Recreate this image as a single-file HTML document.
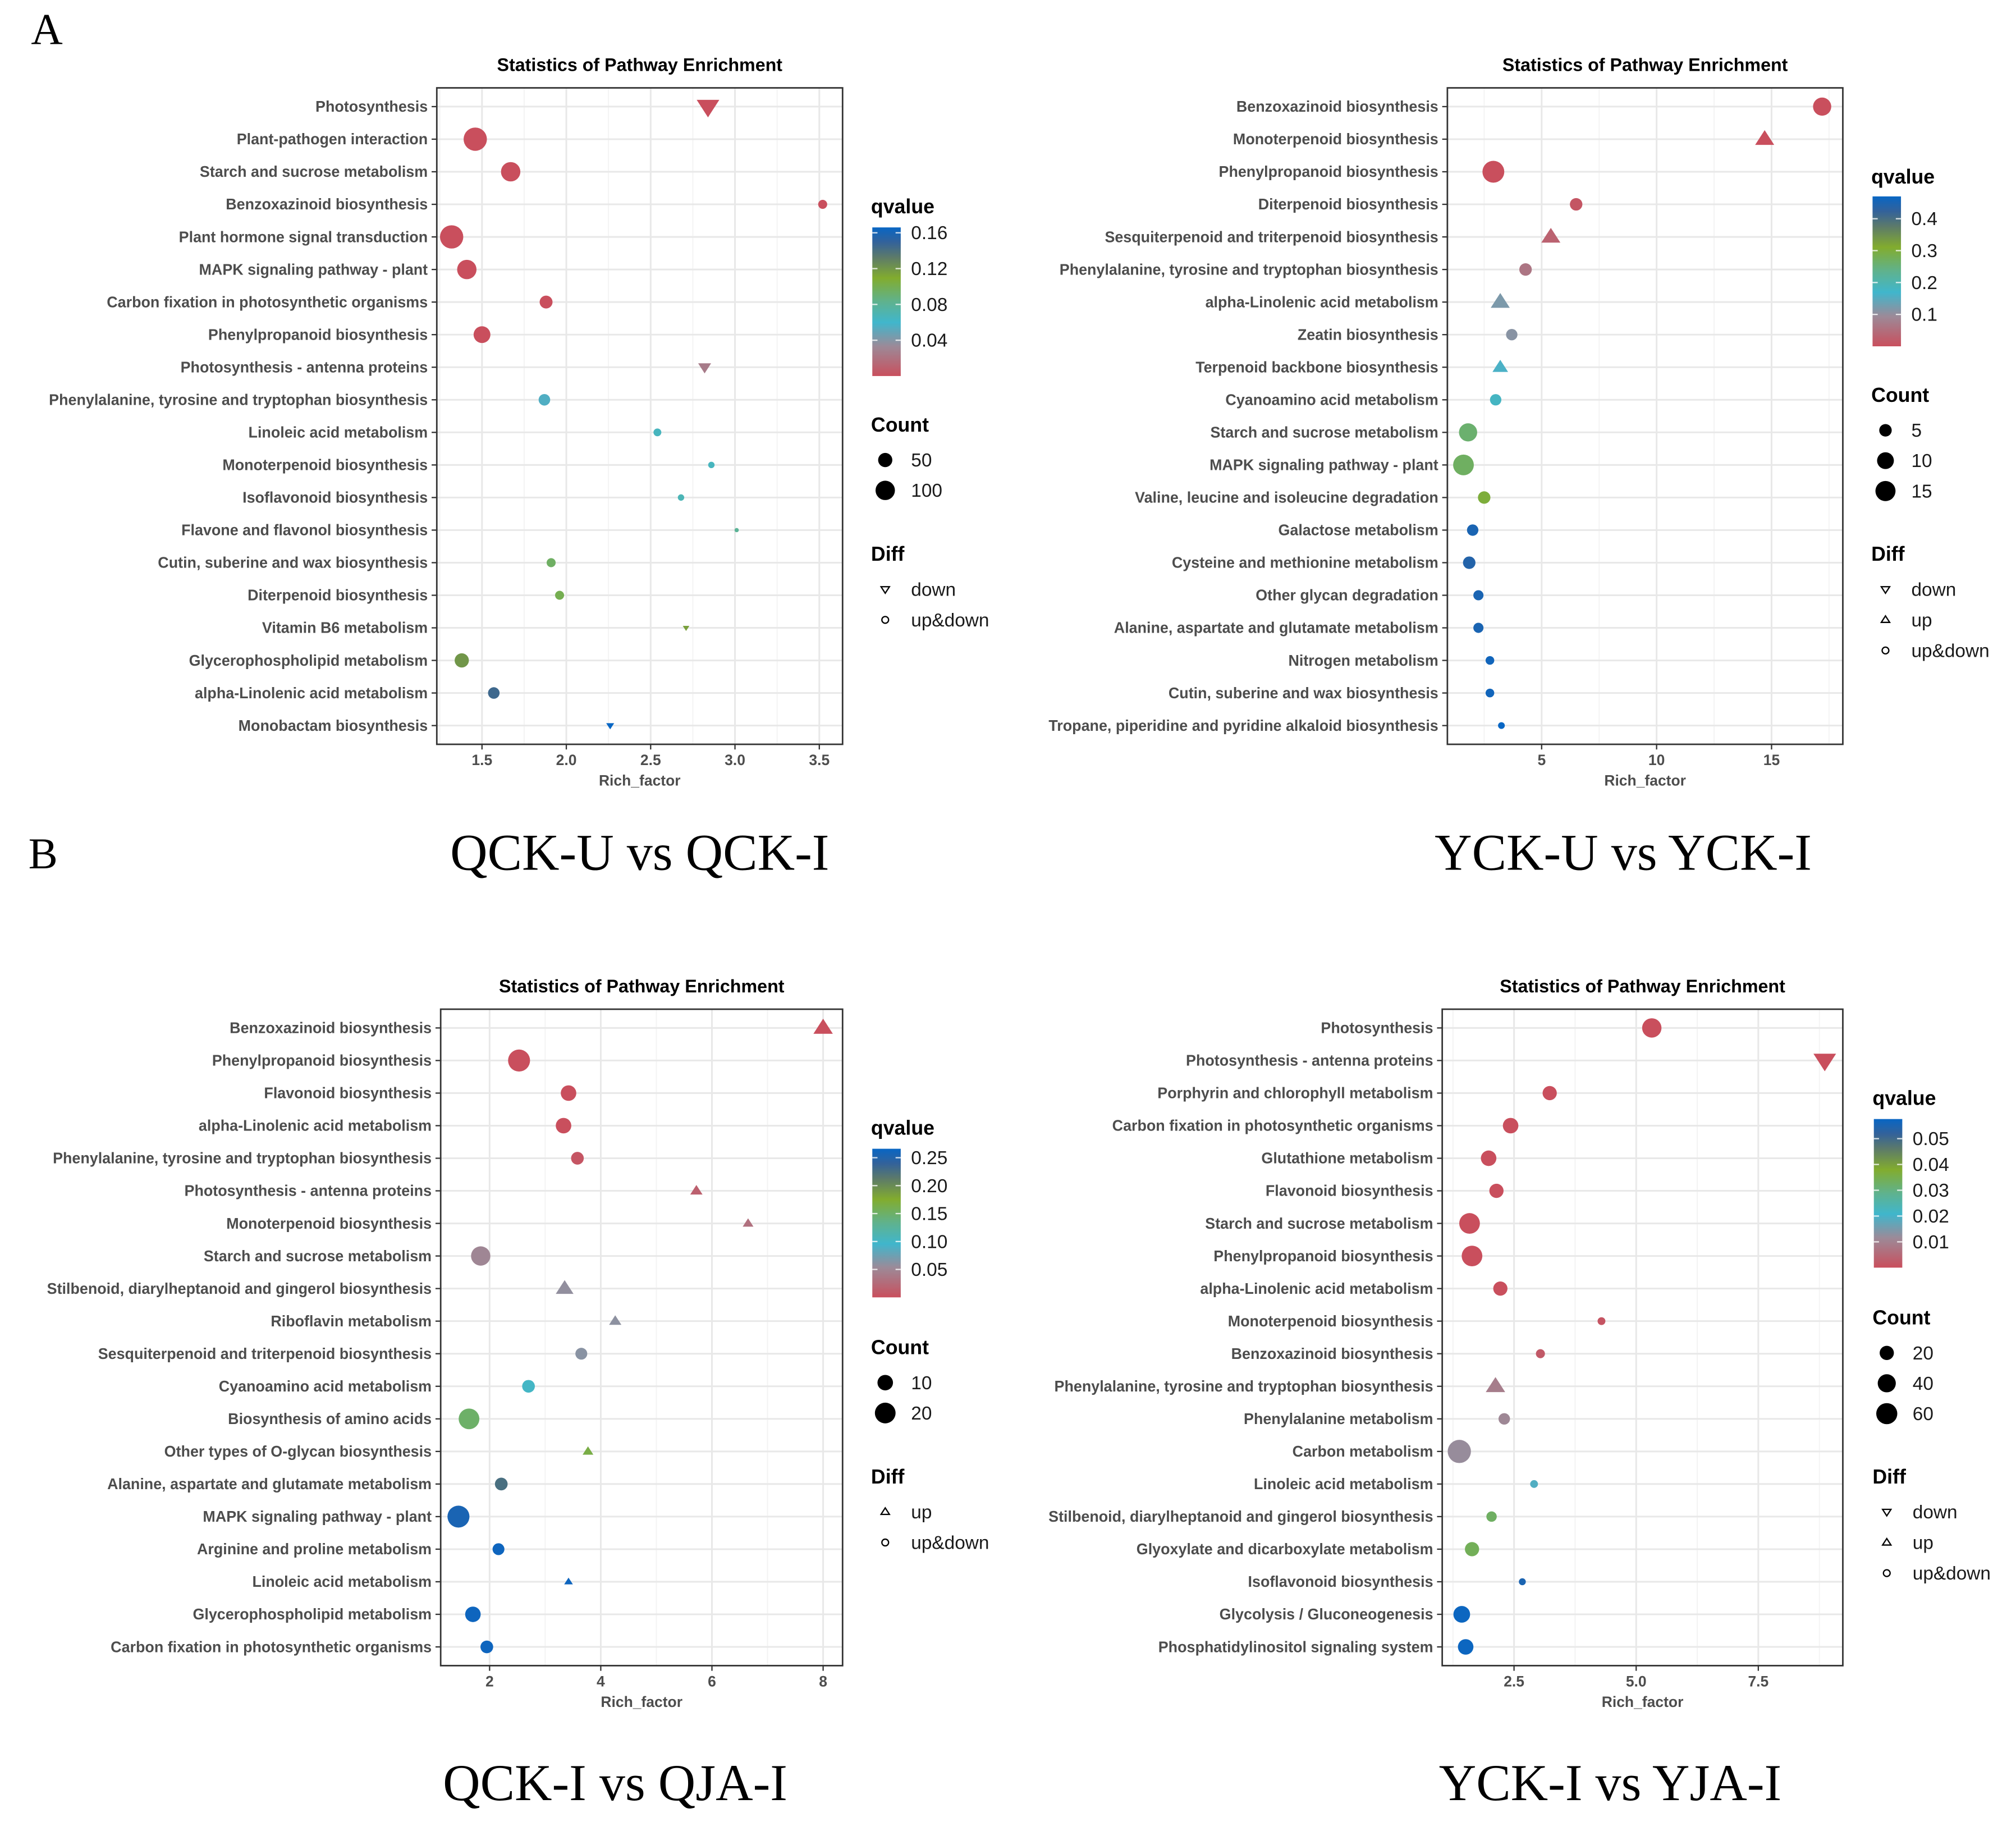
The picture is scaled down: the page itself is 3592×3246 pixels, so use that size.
<!DOCTYPE html>
<html><head><meta charset="utf-8">
<style>
html,body{margin:0;padding:0;background:#fff;}
svg{display:block;}
.lab{font-family:"Liberation Sans",Arial,sans-serif;font-weight:bold;fill:#4d4d4d;font-size:12px;}
.tick{font-family:"Liberation Sans",Arial,sans-serif;font-weight:bold;fill:#4d4d4d;font-size:11.5px;}
.ttl{font-family:"Liberation Sans",Arial,sans-serif;font-weight:bold;fill:#000;font-size:14px;}
.lgt{font-family:"Liberation Sans",Arial,sans-serif;font-weight:bold;fill:#000;font-size:15.5px;}
.lgl{font-family:"Liberation Sans",Arial,sans-serif;fill:#1a1a1a;font-size:14.5px;}
.big{font-family:"Liberation Serif","Times New Roman",serif;fill:#000;}
</style></head>
<body>
<svg id="fig" width="3592" height="3246" viewBox="0 0 1560 1410" preserveAspectRatio="none" xmlns="http://www.w3.org/2000/svg">
<defs>
<linearGradient id="qgrad" x1="0" y1="1" x2="0" y2="0">
<stop offset="0" stop-color="#c94f5d"/>
<stop offset="0.2" stop-color="#9c8a98"/>
<stop offset="0.36" stop-color="#40b6cc"/>
<stop offset="0.5" stop-color="#5fb28e"/>
<stop offset="0.66" stop-color="#82ac2e"/>
<stop offset="0.8" stop-color="#5c7a6a"/>
<stop offset="0.9" stop-color="#33629a"/>
<stop offset="1" stop-color="#0866c4"/>
</linearGradient>
</defs>
<text class="big" x="24" y="34" font-size="34">A</text>
<text class="big" x="22" y="672" font-size="34">B</text>
<text class="big" x="495" y="673" font-size="40" text-anchor="middle">QCK-U vs QCK-I</text>
<text class="big" x="1256" y="673" font-size="40" text-anchor="middle">YCK-U vs YCK-I</text>
<text class="big" x="476" y="1393" font-size="40" text-anchor="middle">QCK-I vs QJA-I</text>
<text class="big" x="1246" y="1393" font-size="40" text-anchor="middle">YCK-I vs YJA-I</text>
</svg>
<script>
// ---------- Panel 1 data ----------
const p1Pathways = ["Photosynthesis","Plant-pathogen interaction","Starch and sucrose metabolism","Benzoxazinoid biosynthesis","Plant hormone signal transduction","MAPK signaling pathway - plant","Carbon fixation in photosynthetic organisms","Phenylpropanoid biosynthesis","Photosynthesis - antenna proteins","Phenylalanine, tyrosine and tryptophan biosynthesis","Linoleic acid metabolism","Monoterpenoid biosynthesis","Isoflavonoid biosynthesis","Flavone and flavonol biosynthesis","Cutin, suberine and wax biosynthesis","Diterpenoid biosynthesis","Vitamin B6 metabolism","Glycerophospholipid metabolism","alpha-Linolenic acid metabolism","Monobactam biosynthesis"];
const p1Rich = [2.84,1.46,1.67,3.52,1.32,1.41,1.88,1.50,2.82,1.87,2.54,2.86,2.68,3.01,1.91,1.96,2.71,1.38,1.57,2.26];
const p1Count = [86,149,100,17,149,100,40,73,24,31,12,7,7,2,17,17,4,50,31,7];
const p1Q = [0,0,0,0,0,0,0,0,0.025,0.055,0.065,0.065,0.068,0.08,0.095,0.1,0.115,0.12,0.145,0.166];
const p1Diff = ["down","ud","ud","ud","ud","ud","ud","ud","down","ud","ud","ud","ud","ud","ud","ud","down","ud","ud","down"];
const p1Ticks = [1.5,2.0,2.5,3.0,3.5];
const p1TickLabels = ["1.5","2.0","2.5","3.0","3.5"];
const p1QTicks = [0.04,0.08,0.12,0.16];
const p1QLabels = ["0.04","0.08","0.12","0.16"];
const p1SizeVals = [50,100];
const p1DiffLegend = ["down","ud"];

// ---------- Panel 2 data ----------
const p2Pathways = ["Benzoxazinoid biosynthesis","Monoterpenoid biosynthesis","Phenylpropanoid biosynthesis","Diterpenoid biosynthesis","Sesquiterpenoid and triterpenoid biosynthesis","Phenylalanine, tyrosine and tryptophan biosynthesis","alpha-Linolenic acid metabolism","Zeatin biosynthesis","Terpenoid backbone biosynthesis","Cyanoamino acid metabolism","Starch and sucrose metabolism","MAPK signaling pathway - plant","Valine, leucine and isoleucine degradation","Galactose metabolism","Cysteine and methionine metabolism","Other glycan degradation","Alanine, aspartate and glutamate metabolism","Nitrogen metabolism","Cutin, suberine and wax biosynthesis","Tropane, piperidine and pyridine alkaloid biosynthesis"];
const p2Rich = [17.2,14.7,2.9,6.5,5.4,4.3,3.2,3.7,3.2,3.0,1.8,1.6,2.5,2.0,1.85,2.25,2.25,2.75,2.75,3.25];
const p2Count = [12,8,18,5,8,5,8,4,5,4,12,16,5,4,5,3,3,2,2,1];
const p2Q = [0,0,0,0.01,0.03,0.06,0.12,0.11,0.16,0.18,0.26,0.27,0.3,0.45,0.44,0.45,0.45,0.46,0.46,0.47];
const p2Diff = ["ud","up","ud","ud","up","ud","up","ud","up","ud","ud","ud","ud","ud","ud","ud","ud","ud","ud","ud"];
const p2Ticks = [5,10,15];
const p2TickLabels = ["5","10","15"];
const p2QTicks = [0.1,0.2,0.3,0.4];
const p2QLabels = ["0.1","0.2","0.3","0.4"];
const p2SizeVals = [5,10,15];
const p2DiffLegend = ["down","up","ud"];

// ---------- Panel 3 data ----------
const p3Pathways = ["Benzoxazinoid biosynthesis","Phenylpropanoid biosynthesis","Flavonoid biosynthesis","alpha-Linolenic acid metabolism","Phenylalanine, tyrosine and tryptophan biosynthesis","Photosynthesis - antenna proteins","Monoterpenoid biosynthesis","Starch and sucrose metabolism","Stilbenoid, diarylheptanoid and gingerol biosynthesis","Riboflavin metabolism","Sesquiterpenoid and triterpenoid biosynthesis","Cyanoamino acid metabolism","Biosynthesis of amino acids","Other types of O-glycan biosynthesis","Alanine, aspartate and glutamate metabolism","MAPK signaling pathway - plant","Arginine and proline metabolism","Linoleic acid metabolism","Glycerophospholipid metabolism","Carbon fixation in photosynthetic organisms"];
const p3Rich = [8.0,2.53,3.42,3.33,3.58,5.72,6.65,1.84,3.35,4.26,3.65,2.7,1.63,3.77,2.21,1.44,2.16,3.42,1.7,1.95];
const p3Count = [10,23,10,10,6,3,2,17,8,3,5,6,20,2,6,23,5,1,10,6];
const p3Q = [0,0,0,0,0.005,0.015,0.03,0.05,0.058,0.06,0.062,0.1,0.15,0.165,0.225,0.255,0.262,0.262,0.262,0.262];
const p3Diff = ["up","ud","ud","ud","ud","up","up","ud","up","up","ud","ud","ud","up","ud","ud","ud","up","ud","ud"];
const p3Ticks = [2,4,6,8];
const p3TickLabels = ["2","4","6","8"];
const p3QTicks = [0.05,0.10,0.15,0.20,0.25];
const p3QLabels = ["0.05","0.10","0.15","0.20","0.25"];
const p3SizeVals = [10,20];
const p3DiffLegend = ["up","ud"];

// ---------- Panel 4 data ----------
const p4Pathways = ["Photosynthesis","Photosynthesis - antenna proteins","Porphyrin and chlorophyll metabolism","Carbon fixation in photosynthetic organisms","Glutathione metabolism","Flavonoid biosynthesis","Starch and sucrose metabolism","Phenylpropanoid biosynthesis","alpha-Linolenic acid metabolism","Monoterpenoid biosynthesis","Benzoxazinoid biosynthesis","Phenylalanine, tyrosine and tryptophan biosynthesis","Phenylalanine metabolism","Carbon metabolism","Linoleic acid metabolism","Stilbenoid, diarylheptanoid and gingerol biosynthesis","Glyoxylate and dicarboxylate metabolism","Isoflavonoid biosynthesis","Glycolysis / Gluconeogenesis","Phosphatidylinositol signaling system"];
const p4Rich = [5.32,8.86,3.23,2.43,1.98,2.14,1.59,1.64,2.22,4.29,3.04,2.12,2.30,1.38,2.91,2.04,1.64,2.67,1.43,1.51];
const p4Count = [48,40,20,26,26,20,57,57,20,2,4,26,10,77,2,7,20,1,32,26];
const p4Q = [0,0,0,0,0,0,0,0,0,0.001,0.002,0.009,0.011,0.012,0.019,0.033,0.034,0.055,0.057,0.057];
const p4Diff = ["ud","down","ud","ud","ud","ud","ud","ud","ud","ud","ud","up","ud","ud","ud","ud","ud","ud","ud","ud"];
const p4Ticks = [2.5,5.0,7.5];
const p4TickLabels = ["2.5","5.0","7.5"];
const p4QTicks = [0.01,0.02,0.03,0.04,0.05];
const p4QLabels = ["0.01","0.02","0.03","0.04","0.05"];
const p4SizeVals = [20,40,60];
const p4DiffLegend = ["down","up","ud"];

const NS = "http://www.w3.org/2000/svg";
const svg = document.getElementById('fig');
const stops = [[0,[201,79,93]],[0.2,[156,138,152]],[0.36,[64,182,204]],[0.5,[95,178,142]],[0.66,[130,172,46]],[0.8,[92,122,106]],[0.9,[51,98,154]],[1,[8,102,196]]];
function qcolor(t){t=Math.max(0,Math.min(1,t));for(let i=1;i<stops.length;i++){if(t<=stops[i][0]){const a=stops[i-1],b=stops[i];const f=(t-a[0])/(b[0]-a[0]);const c=a[1].map((v,k)=>Math.round(v+(b[1][k]-v)*f));return 'rgb('+c.join(',')+')';}}return 'rgb(8,102,196)';}
function mk(tag,attrs,parent){const e=document.createElementNS(NS,tag);for(const k in attrs)e.setAttribute(k,attrs[k]);(parent||svg).appendChild(e);return e;}
function marker(g,shape,cx,cy,r,fill,stroke){
  let e;
  if(shape==='ud'){e=mk('circle',{cx:cx,cy:cy,r:r,fill:fill,stroke:stroke||'none','stroke-width':1},g);}
  else{const s=r*1.25;const pts=shape==='down'?[[cx-s,cy-s*0.6],[cx+s,cy-s*0.6],[cx,cy+s*0.95]]:[[cx-s,cy+s*0.6],[cx+s,cy+s*0.6],[cx,cy-s*0.95]];
    e=mk('polygon',{points:pts.map(p=>p.join(',')).join(' '),fill:fill,stroke:stroke||'none','stroke-width':1},g);}
  return e;
}
let labScale=1;
(function(){const t=mk('text',{class:'lab',x:0,y:-50});t.textContent="Phenylalanine, tyrosine and tryptophan biosynthesis";const w=t.getComputedTextLength();labScale=w>0?293/w:0.82;t.remove();})();

function panel(o){
  const g=mk('g',{});
  
  
  const L=o.box[0],T=o.box[1],R=o.box[2],B=o.box[3];
  const xs=v=>L+(v-o.xmin)/(o.xmax-o.xmin)*(R-L);
  const n=o.paths.length;const y0=T+14.5,y1=B-14.5;
  const ys=i=>y0+i*(y1-y0)/(n-1);
  const pr=mk('rect',{x:L,y:T,width:R-L,height:B-T,fill:'#fff'},g);
  
  
  o.minor.forEach(v=>{const x=xs(v);mk('line',{x1:x,x2:x,y1:T,y2:B,stroke:'#f3f3f3','stroke-width':0.8},g);});
  o.ticks.forEach(v=>{const x=xs(v);mk('line',{x1:x,x2:x,y1:T,y2:B,stroke:'#e8e8e8','stroke-width':1.3},g);});
  o.paths.forEach((p,i)=>{mk('line',{x1:L,x2:R,y1:ys(i),y2:ys(i),stroke:'#e8e8e8','stroke-width':1.3},g);});
  mk('rect',{x:L,y:T,width:R-L,height:B-T,fill:'none',stroke:'#333','stroke-width':1.2},g);
  o.paths.forEach((p,i)=>{
    const y=ys(i);
    mk('line',{x1:L-4,x2:L,y1:y,y2:y,stroke:'#333','stroke-width':1},g);
    const t=mk('text',{class:'lab','text-anchor':'end',transform:'translate('+(L-7)+','+(y+4)+') scale('+labScale+',1)'},g);
    t.textContent=p;
    
    
  });
  o.ticks.forEach((v,i)=>{const x=xs(v);mk('line',{x1:x,x2:x,y1:B,y2:B+4,stroke:'#333','stroke-width':1},g);
    const t=mk('text',{class:'tick',x:x,y:B+16,'text-anchor':'middle'},g);t.textContent=o.tickLabels[i];
    
    });
  const xt=mk('text',{class:'tick',x:(L+R)/2,y:B+32,'text-anchor':'middle','font-size':'12.5'},g);xt.textContent='Rich_factor';
  
  
  const tt=mk('text',{class:'ttl',x:(L+R)/2,y:T-13,'text-anchor':'middle'},g);tt.textContent='Statistics of Pathway Enrichment';
  
  
  const rad=c=>o.sa+o.sb*Math.sqrt(c);
  o.paths.forEach((p,i)=>{
    const m=marker(g,o.diff[i],xs(o.rich[i]),ys(i),rad(o.count[i]),qcolor(o.q[i]/o.qmax));
    
    
  });
  const lx=o.leg[0];
  const qt=mk('text',{class:'lgt',x:lx,y:o.leg[1]+5},g);qt.textContent='qvalue';
  
  
  const bT=o.bar[0],bB=o.bar[1];
  const bar=mk('rect',{x:lx+1,y:bT,width:22,height:bB-bT,fill:'url(#qgrad)'},g);
  
  
  o.qticks.forEach((v,i)=>{const y=bB-(v/o.qmax)*(bB-bT);
    mk('line',{x1:lx+1,x2:lx+5,y1:y,y2:y,stroke:'#fff','stroke-width':1,opacity:0.8},g);
    mk('line',{x1:lx+19,x2:lx+23,y1:y,y2:y,stroke:'#fff','stroke-width':1,opacity:0.8},g);
    const t=mk('text',{class:'lgl',x:lx+31,y:y+5},g);t.textContent=o.qlabels[i];
    
    });
  const ct=mk('text',{class:'lgt',x:lx,y:o.leg[2]+5},g);ct.textContent='Count';
  
  
  o.sizes.forEach((v,i)=>{const y=o.leg[2]+27+i*23.5;
    const c=mk('circle',{cx:lx+11,cy:y,r:rad(v),fill:'#000'},g);
    
    
    const t=mk('text',{class:'lgl',x:lx+31,y:y+5},g);t.textContent=String(v);
    
    });
  const dt=mk('text',{class:'lgt',x:lx,y:o.leg[3]+5},g);dt.textContent='Diff';
  
  
  o.diffLeg.forEach((v,i)=>{const y=o.leg[3]+27+i*23.7;
    const m=marker(g,v,lx+11,y,2.6,'none','#000');
    
    
    const t=mk('text',{class:'lgl',x:lx+31,y:y+5},g);t.textContent=v==='ud'?'up&down':v;
    
    });
}
panel({name:'chart-qcku-vs-qcki',box:[338,68,652,576],xmin:1.232,xmax:3.638,paths:p1Pathways,rich:p1Rich,count:p1Count,q:p1Q,diff:p1Diff,qmax:0.166,ticks:p1Ticks,tickLabels:p1TickLabels,minor:[1.25,1.75,2.25,2.75,3.25],sa:0.67,sb:0.683,leg:[674,160,329,429],bar:[176,291],qticks:p1QTicks,qlabels:p1QLabels,sizes:p1SizeVals,diffLeg:p1DiffLegend});
panel({name:'chart-ycku-vs-ycki',box:[1120,68,1426,576],xmin:0.9,xmax:18.1,paths:p2Pathways,rich:p2Rich,count:p2Count,q:p2Q,diff:p2Diff,qmax:0.47,ticks:p2Ticks,tickLabels:p2TickLabels,minor:[2.5,7.5,12.5,17.5],sa:0.81,sb:1.8,leg:[1448,137,306,429],bar:[152,268],qticks:p2QTicks,qlabels:p2QLabels,sizes:p2SizeVals,diffLeg:p2DiffLegend});
panel({name:'chart-qcki-vs-qjai',box:[341,781,652,1289],xmin:1.12,xmax:8.35,paths:p3Pathways,rich:p3Rich,count:p3Count,q:p3Q,diff:p3Diff,qmax:0.266,ticks:p3Ticks,tickLabels:p3TickLabels,minor:[3,5,7],sa:1.17,sb:1.53,leg:[674,873,1043,1143],bar:[889,1004],qticks:p3QTicks,qlabels:p3QLabels,sizes:p3SizeVals,diffLeg:p3DiffLegend});
panel({name:'chart-ycki-vs-yjai',box:[1116,781,1426,1289],xmin:1.03,xmax:9.23,paths:p4Pathways,rich:p4Rich,count:p4Count,q:p4Q,diff:p4Diff,qmax:0.0576,ticks:p4Ticks,tickLabels:p4TickLabels,minor:[1.25,3.75,6.25,8.75],sa:1.88,sb:0.81,leg:[1449,850,1020,1143],bar:[866,981],qticks:p4QTicks,qlabels:p4QLabels,sizes:p4SizeVals,diffLeg:p4DiffLegend});
</script>
</body></html>
